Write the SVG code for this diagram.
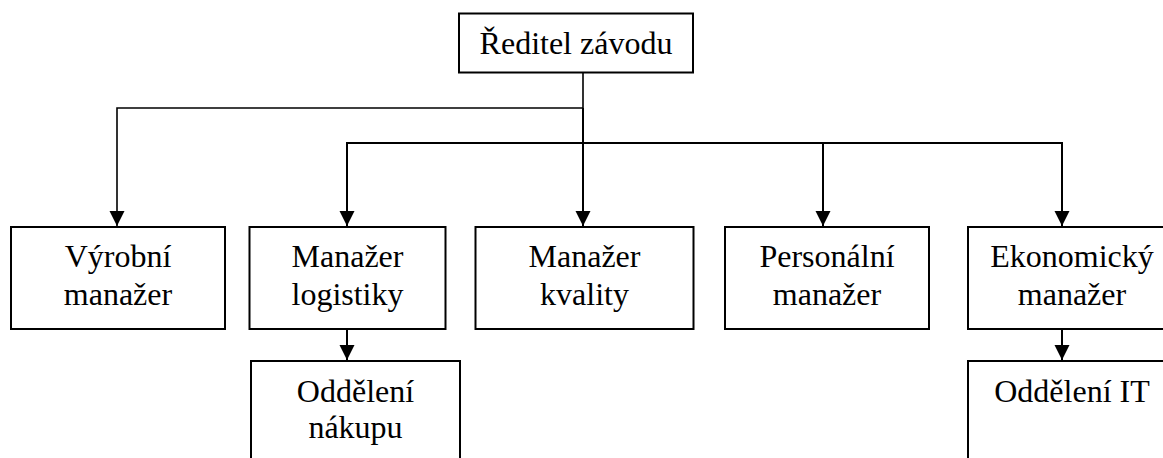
<svg xmlns="http://www.w3.org/2000/svg" width="1163" height="458" viewBox="0 0 1163 458">
<style>
.box{fill:#fff;stroke:#000;stroke-width:2}
.t{font-family:"Liberation Serif","Times New Roman",serif;font-size:32px;fill:#000;text-anchor:middle}
.c{fill:none;stroke:#000;stroke-width:2}
.c1{fill:none;stroke:#000;stroke-width:1.6}
</style>
<defs>
<marker id="ah" markerUnits="userSpaceOnUse" markerWidth="16" markerHeight="16" viewBox="0 0 16 16" refX="15" refY="8" orient="auto">
<path d="M0,0.5 L15,8 L0,15.5 Z" fill="#000"/>
</marker>
</defs>
<g id="connectors">
<path class="c1" d="M583,73 V108 H117 V226" marker-end="url(#ah)"/>
<path class="c" d="M583,108 V226" marker-end="url(#ah)"/>
<path class="c" d="M347,226 V143 H1062 V226" marker-end="url(#ah)"/>
<path class="c" d="M347,143 V226" marker-end="url(#ah)"/>
<path class="c" d="M823,143 V226" marker-end="url(#ah)"/>
<path class="c" d="M347,330 V360" marker-end="url(#ah)"/>
<path class="c" d="M1062,330 V360" marker-end="url(#ah)"/>
</g>
<g id="n-reditel">
<rect class="box" x="459" y="13.5" width="234" height="59"/>
<text class="t" x="576" y="54">Ředitel závodu</text>
</g>
<g id="n-vyrobni">
<rect class="box" x="11" y="227" width="214" height="102"/>
<text class="t" x="118" y="267">Výrobní</text>
<text class="t" x="118" y="305">manažer</text>
</g>
<g id="n-logistika">
<rect class="box" x="249.5" y="227" width="196" height="102"/>
<text class="t" x="347.5" y="267">Manažer</text>
<text class="t" x="347.5" y="305">logistiky</text>
</g>
<g id="n-kvalita">
<rect class="box" x="475.5" y="227" width="218" height="102"/>
<text class="t" x="584.5" y="267">Manažer</text>
<text class="t" x="584.5" y="305">kvality</text>
</g>
<g id="n-personalni">
<rect class="box" x="725" y="227" width="204" height="102"/>
<text class="t" x="827" y="267">Personální</text>
<text class="t" x="827" y="305">manažer</text>
</g>
<g id="n-ekonomicky">
<rect class="box" x="968" y="227" width="210" height="102"/>
<text class="t" x="1072" y="267">Ekonomický</text>
<text class="t" x="1072" y="305">manažer</text>
</g>
<g id="n-nakup">
<rect class="box" x="251" y="361" width="209" height="110"/>
<text class="t" x="355.5" y="402">Oddělení</text>
<text class="t" x="355.5" y="438">nákupu</text>
</g>
<g id="n-it">
<rect class="box" x="968" y="361" width="210" height="110"/>
<text class="t" x="1072" y="402">Oddělení IT</text>
</g>
</svg>
